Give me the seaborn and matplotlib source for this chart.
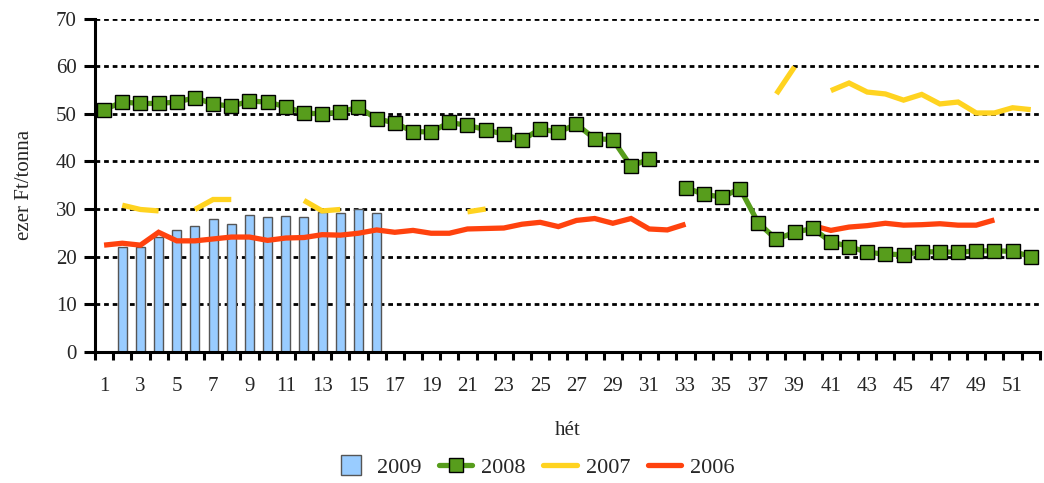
"""Heti átlagár 2006-2009, ezer Ft/tonna."""

import matplotlib
matplotlib.use("Agg")
import matplotlib.pyplot as plt
import numpy as np
import pandas as pd
import seaborn as sns
from matplotlib.lines import Line2D

nan = np.nan

# ── Data ─────────────────────────────────────────────────────────────

weeks = list(range(1, 53))

weeks_2009 = list(range(2, 17))
price_2009 = [22.1, 22.0, 24.2, 25.6, 26.5, 27.9, 26.9, 28.8, 28.4, 28.5,
              28.4, 29.3, 29.1, 30.0, 29.1]

price_2008 = [50.9, 52.5, 52.2, 52.2, 52.5, 53.4, 52.1, 51.6, 52.7, 52.5,
              51.5, 50.2, 50.0, 50.4, 51.4, 49.0, 48.1, 46.3, 46.2, 48.2,
              47.6, 46.7, 45.7, 44.5, 46.8, 46.2, 47.8, 44.8, 44.6, 39.0,
              40.5, nan, 34.5, 33.1, 32.5, 34.3, 27.1, 23.6, 25.1, 25.9,
              23.1, 22.1, 20.9, 20.5, 20.4, 21.0, 21.0, 20.9, 21.2, 21.2,
              21.1, 20.0]

price_2007 = [nan, 30.8, 29.9, 29.6, nan, 29.9, 32.0, 32.0, nan, nan,
              nan, 31.8, 29.6, 29.9, nan, nan, nan, nan, nan, nan,
              29.4, 30.0, nan, nan, nan, nan, nan, nan, nan, nan,
              nan, nan, nan, nan, nan, nan, nan, 54.2, 59.9, nan,
              54.9, 56.5, 54.6, 54.2, 52.9, 54.1, 52.1, 52.5, 50.2, 50.2,
              51.3, 50.9]

price_2006 = [22.4, 22.8, 22.4, 25.1, 23.3, 23.3, 23.7, 24.1, 24.1, 23.4,
              23.9, 24.0, 24.6, 24.5, 24.9, 25.6, 25.1, 25.5, 24.9, 24.9,
              25.8, 25.9, 26.0, 26.8, 27.2, 26.3, 27.6, 28.0, 27.0, 28.0,
              25.8, 25.6, 26.8, nan, nan, nan, nan, nan, nan, 26.5,
              25.5, 26.2, 26.5, 27.0, 26.6, 26.7, 26.9, 26.6, 26.6, 27.7,
              nan, nan]

C_2009 = "#99ccff"
C_2008 = "#579d1c"
C_2007 = "#ffd320"
C_2006 = "#ff420e"
FONT = ["Liberation Serif", "DejaVu Serif"]


def _segments(values):
    """Frame with a segment id per unbroken run, so gaps stay gaps."""
    df = pd.DataFrame({"het": weeks, "ar": values})
    df["seg"] = df["ar"].isna().cumsum()
    return df.dropna()


# ── Plot ─────────────────────────────────────────────────────────────

sns.set_theme(style="white")
plt.rcParams["font.family"] = FONT
plt.rcParams["font.size"] = 15

fig = plt.figure(figsize=(10.44, 4.83), dpi=100)
ax = fig.add_axes([0.091, 0.272, 0.905, 0.689])

for y in range(10, 80, 10):
    ax.axhline(y, color="black", lw=2, ls=(0, (1.7, 1.4)), zorder=0)

bars = pd.DataFrame({"het": weeks_2009, "ar": price_2009})
sns.barplot(data=bars, x="het", y="ar", native_scale=True, width=0.5,
            color=C_2009, edgecolor="#555555", linewidth=1, saturation=1,
            ax=ax, zorder=2)

for values, color, z in ((price_2007, C_2007, 3), (price_2006, C_2006, 4)):
    sns.lineplot(data=_segments(values), x="het", y="ar", units="seg",
                 estimator=None, color=color, lw=3.8, ax=ax, zorder=z,
                 solid_capstyle="butt", solid_joinstyle="miter")

sns.lineplot(data=_segments(price_2008), x="het", y="ar", units="seg",
             estimator=None, color=C_2008, lw=3.8, marker="s", ms=9.5,
             mfc=C_2008, mec="black", mew=1, ax=ax, zorder=5,
             solid_capstyle="butt")

ax.set_xlim(0.5, 52.5)
ax.set_ylim(0, 70)
ax.set_yticks(range(0, 80, 10))
ax.set_xticks(range(1, 53, 2))
ax.set_xticks(np.arange(0.5, 53, 1), minor=True)
ax.tick_params(axis="x", which="major", length=0, pad=18, labelsize=15)
ax.tick_params(axis="x", which="minor", length=6, width=2.2, color="black",
               direction="out", bottom=True)
ax.tick_params(axis="y", length=8, width=2.2, color="black", direction="out",
               left=True, pad=5, labelsize=15)

for side in ("top", "right"):
    ax.spines[side].set_visible(False)
for side in ("left", "bottom"):
    ax.spines[side].set_color("black")
    ax.spines[side].set_linewidth(2.2)

ax.set_xlabel("hét", fontsize=15, labelpad=18)
ax.set_ylabel("ezer Ft/tonna", fontsize=15, labelpad=16)

handles = [
    Line2D([], [], ls="none", marker="s", ms=14, mfc=C_2009,
           mec="#555555", mew=1),
    Line2D([], [], color=C_2008, lw=3.8, marker="s", ms=9.5, mfc=C_2008,
           mec="black", mew=1),
    Line2D([], [], color=C_2007, lw=3.8),
    Line2D([], [], color=C_2006, lw=3.8),
]
fig.legend(handles, ["2009", "2008", "2007", "2006"], loc="center",
           bbox_to_anchor=(0.512, 0.032), ncol=4, frameon=False,
           fontsize=16, handlelength=1.5, columnspacing=0.8,
           handletextpad=0.4)

fig.savefig("out.png", dpi=100)
plt.close(fig)
